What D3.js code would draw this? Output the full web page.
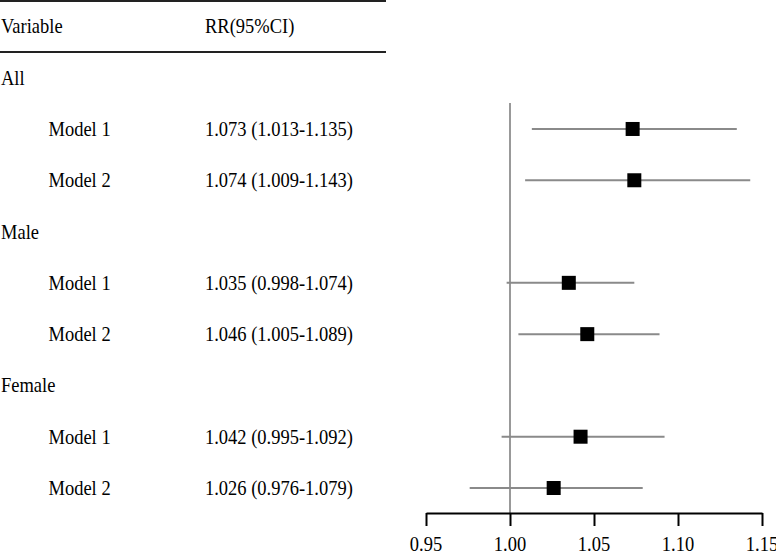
<!DOCTYPE html>
<html><head><meta charset="utf-8">
<script src="https://cdn.jsdelivr.net/npm/d3@7"></script>
<style>body{margin:0;background:#fff}svg{display:block}text{font-family:"Liberation Serif","Times New Roman",serif;font-size:18.5px;fill:#000}</style>
</head><body>
<svg id="c" width="776" height="552"></svg>
<script>
const rowLabels = ["All","Model 1","Model 2","Male","Model 1","Model 2","Female","Model 1","Model 2"];
const isGroup = [true,false,false,true,false,false,true,false,false];
const rr    = [null,1.073,1.074,null,1.035,1.046,null,1.042,1.026];
const lower = [null,1.013,1.009,null,0.998,1.005,null,0.995,0.976];
const upper = [null,1.135,1.143,null,1.074,1.089,null,1.092,1.079];
const rrText = ["","1.073 (1.013-1.135)","1.074 (1.009-1.143)","","1.035 (0.998-1.074)","1.046 (1.005-1.089)","","1.042 (0.995-1.092)","1.026 (0.976-1.079)"];
const xTicks = [0.95,1.00,1.05,1.10,1.15];
const headers = ["Variable","RR(95%CI)"];

const svg = d3.select("#c");
const ids = ["hdr"].concat(rowLabels.map((d,i)=>"r"+i));
const y = d3.scalePoint().domain(ids).range([26.4,488]);
const x = d3.scaleLinear().domain([0.95,1.15]).range([426,762]);
const axisY = 513;
const sy = 1.12, base = 7;

function txt(g, tx, ty, s, anchor){
  return g.append("text").attr("transform",`translate(${tx},${ty}) scale(1,${sy})`)
    .attr("text-anchor",anchor||"start").text(s);
}

// table lines
svg.append("line").attr("x1",0).attr("x2",386).attr("y1",1).attr("y2",1).attr("stroke","#222").attr("stroke-width",2);
svg.append("line").attr("x1",0).attr("x2",386).attr("y1",52).attr("y2",52).attr("stroke","#222").attr("stroke-width",2);

// headers
txt(svg, 1, y("hdr")+base, headers[0]);
txt(svg, 205, y("hdr")+base, headers[1]);

rowLabels.forEach((d,i)=>{
  txt(svg, isGroup[i]?1:48.5, y("r"+i)+base, d);
  if (rrText[i]) txt(svg, 205, y("r"+i)+base, rrText[i]);
});

// reference line
svg.append("line").attr("x1",x(1)).attr("x2",x(1)).attr("y1",103).attr("y2",axisY).attr("stroke","#999").attr("stroke-width",2);

const pts = rowLabels.map((d,i)=>({i})).filter(d=>rr[d.i]!=null);
svg.selectAll("line.ci").data(pts).join("line").attr("class","ci")
  .attr("x1",d=>x(lower[d.i])).attr("x2",d=>x(upper[d.i]))
  .attr("y1",d=>y("r"+d.i)).attr("y2",d=>y("r"+d.i))
  .attr("stroke","#8a8a8a").attr("stroke-width",2);
const s = 14;
svg.selectAll("rect.pt").data(pts).join("rect").attr("class","pt")
  .attr("x",d=>x(rr[d.i])-s/2).attr("y",d=>y("r"+d.i)-s/2)
  .attr("width",s).attr("height",s).attr("fill","#000");

// axis
const ax = svg.append("g").attr("transform",`translate(0,${axisY})`)
  .call(d3.axisBottom(x).tickValues(xTicks).tickFormat("").tickSize(13).tickSizeOuter(0));
ax.select(".domain").attr("stroke","#000").attr("stroke-width",2);
ax.selectAll(".tick line").attr("stroke","#000").attr("stroke-width",2);
const fmt = d3.format(".2f");
xTicks.forEach(t=>txt(svg, x(t), 551, fmt(t), "middle"));
</script>
</body></html>
